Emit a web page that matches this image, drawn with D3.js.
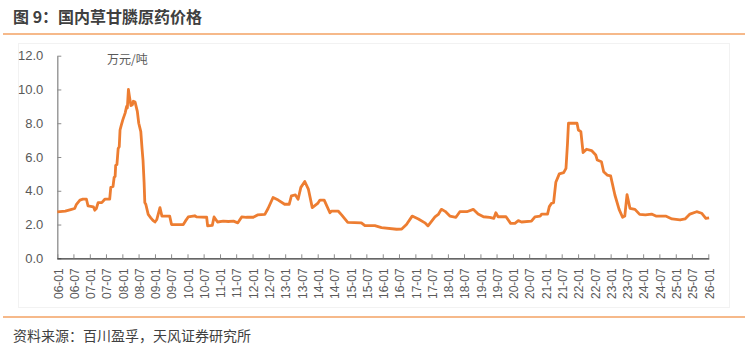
<!DOCTYPE html>
<html>
<head>
<meta charset="utf-8">
<script src="https://cdn.jsdelivr.net/npm/d3@7"></script>
<style>
  body { margin: 0; background: #fff; }
  svg { display: block; font-family: "Liberation Sans", Arial, "Noto Sans CJK SC", sans-serif; }
  .cjk { font-family: "Noto Sans CJK SC", "Liberation Sans", sans-serif; }
</style>
</head>
<body>
<div id="chart"></div>
<script>
const title = '图 9：国内草甘膦原药价格';
const source = '资料来源：百川盈孚，天风证券研究所';
const unit = '万元/吨';

const dates = [
  '2006-01-01','2006-04-01','2006-06-10','2006-07-15','2006-08-04','2006-09-12','2006-10-15','2006-11-24',
  '2006-12-12','2007-02-10','2007-02-26','2007-03-15','2007-04-04','2007-05-15','2007-06-18','2007-08-12',
  '2007-08-24','2007-09-18','2007-10-01','2007-10-12','2007-10-18','2007-11-01','2007-11-15','2007-11-27',
  '2007-12-06','2007-12-21','2008-01-06','2008-02-01','2008-02-18','2008-02-26','2008-03-09','2008-03-20',
  '2008-04-06','2008-04-23','2008-05-03','2008-05-23','2008-06-17','2008-07-03','2008-07-26','2008-08-09',
  '2008-08-20','2008-09-01','2008-09-09','2008-09-20','2008-10-17','2008-11-15','2008-12-09','2009-01-01',
  '2009-01-22','2009-02-26','2009-03-20','2009-06-15','2009-07-06','2009-11-15','2009-12-08','2010-01-09',
  '2010-03-23','2010-04-12','2010-08-04','2010-08-15','2010-10-06','2010-10-26','2010-12-04','2011-02-06',
  '2011-04-04','2011-06-01','2011-07-20','2011-09-01','2011-10-23','2012-01-09','2012-02-26','2012-05-18',
  '2012-06-23','2012-08-18','2012-10-15','2012-12-26','2013-02-15','2013-03-12','2013-04-26','2013-05-26',
  '2013-06-26','2013-08-09','2013-09-18','2013-11-01','2014-01-01','2014-01-26','2014-03-15','2014-05-18',
  '2014-06-06','2014-08-18','2014-09-26','2014-12-04','2015-05-06','2015-06-15','2015-10-04','2015-12-18',
  '2016-06-04','2016-08-01','2016-09-23','2016-11-26','2017-02-04','2017-04-18','2017-05-23','2017-08-09',
  '2017-09-15','2017-10-20','2017-12-01','2018-01-23','2018-04-01','2018-05-15','2018-08-01','2018-10-12',
  '2018-12-06','2019-02-04','2019-04-15','2019-06-01','2019-06-23','2019-07-18','2019-10-15','2019-12-06',
  '2020-01-23','2020-03-01','2020-04-06','2020-07-26','2020-09-04','2020-11-01','2020-11-18','2021-01-23',
  '2021-02-12','2021-03-09','2021-04-01','2021-04-26','2021-06-04','2021-07-23','2021-08-18','2021-09-04',
  '2021-09-15','2021-12-20','2022-01-04','2022-02-01','2022-02-26','2022-04-06','2022-06-01','2022-07-18',
  '2022-08-04','2022-09-20','2022-10-15','2022-11-23','2023-01-01','2023-02-18','2023-04-06','2023-05-15',
  '2023-06-09','2023-07-04','2023-08-06','2023-10-01','2023-11-23','2024-01-26','2024-04-04','2024-05-23',
  '2024-09-09','2024-11-20','2025-02-18','2025-04-15','2025-06-09','2025-08-23','2025-10-18','2025-12-04',
  '2026-01-10'
];

const prices = [
  2.75, 2.8, 2.9, 2.95, 3.2, 3.45, 3.5, 3.5,
  3.1, 3.05, 2.85, 2.95, 3.3, 3.3, 3.5, 3.5,
  4.2, 4.25, 4.8, 4.85, 5.5, 5.55, 6.5, 6.6,
  7.6, 7.9, 8.2, 8.6, 9.0, 8.9, 10.0, 9.6,
  9.05, 9.1, 9.3, 9.25, 8.7, 8.0, 7.5, 6.5,
  5.8, 4.5, 3.3, 3.2, 2.6, 2.4, 2.25, 2.15,
  2.3, 3.0, 2.5, 2.5, 2.0, 2.0, 2.2, 2.45,
  2.52, 2.45, 2.43, 1.92, 1.95, 2.45, 2.15, 2.2,
  2.18, 2.2, 2.1, 2.45, 2.43, 2.43, 2.57, 2.6,
  2.95, 3.6, 3.45, 3.2, 3.2, 3.7, 3.75, 3.5,
  4.2, 4.55, 4.1, 3.0, 3.25, 3.45, 3.45, 2.7,
  2.8, 2.8, 2.57, 2.13, 2.1, 1.93, 1.93, 1.82,
  1.72, 1.73, 2.0, 2.5, 2.33, 2.1, 1.92, 2.45,
  2.6, 2.9, 2.78, 2.5, 2.43, 2.76, 2.76, 2.9,
  2.62, 2.46, 2.43, 2.37, 2.7, 2.46, 2.46, 2.07,
  2.07, 2.23, 2.15, 2.2, 2.46, 2.5, 2.62, 2.62,
  3.06, 3.26, 3.3, 4.5, 5.0, 5.07, 5.33, 6.8,
  8.0, 8.0, 7.6, 7.5, 6.26, 6.46, 6.38, 6.12,
  5.82, 5.72, 5.13, 4.93, 4.88, 3.75, 2.9, 2.43,
  2.5, 3.77, 2.96, 2.9, 2.6, 2.57, 2.62, 2.5,
  2.5, 2.33, 2.27, 2.33, 2.62, 2.76, 2.67, 2.37,
  2.4
];

const yTicks = [0, 2, 4, 6, 8, 10, 12];
const xStart = '2006-01-01';
const xEnd = '2026-01-01';

const width = 747, height = 351;
const parse = d3.timeParse('%Y-%m-%d');
const data = dates.map((d, i) => [parse(d), prices[i]]);

const svg = d3.select('#chart').append('svg')
  .attr('width', width)
  .attr('height', height);

// header & footer
svg.append('text')
  .attr('class', 'cjk')
  .attr('x', 13).attr('y', 23)
  .style('font-size', '16px')
  .style('font-weight', 'bold')
  .style('fill', '#404040')
  .text(title);

svg.append('line')
  .attr('x1', 3).attr('x2', 745)
  .attr('y1', 34).attr('y2', 34)
  .style('stroke', '#f6b98a')
  .style('stroke-width', 2);

svg.append('rect')
  .attr('x', 18.5).attr('y', 43.5)
  .attr('width', 711).attr('height', 264)
  .style('fill', 'none')
  .style('stroke', '#f2f2f2');

svg.append('line')
  .attr('x1', 3).attr('x2', 745)
  .attr('y1', 317).attr('y2', 317)
  .style('stroke', '#f6b98a')
  .style('stroke-width', 2);

svg.append('text')
  .attr('class', 'cjk')
  .attr('x', 13).attr('y', 341)
  .style('font-size', '14px')
  .style('fill', '#404040')
  .text(source);

// scales
const x = d3.scaleTime()
  .domain([parse(xStart), parse(xEnd)])
  .range([57.3, 708.3]);

const y = d3.scaleLinear()
  .domain([0, 12])
  .range([258.3, 55.7]);

// axes
const yAxis = d3.axisLeft(y)
  .tickValues(yTicks)
  .tickFormat(d3.format('.1f'))
  .tickSizeInner(-4)
  .tickSizeOuter(0)
  .tickPadding(14);

const yG = svg.append('g')
  .attr('transform', `translate(${x.range()[0]},0)`)
  .call(yAxis);
yG.select('.domain').style('stroke', '#8c8c8c').style('stroke-width', 1.3);
yG.selectAll('.tick line').style('stroke', '#8c8c8c');
yG.selectAll('.tick text')
  .style('font-size', '13px')
  .style('fill', '#595959');

const xAxis = d3.axisBottom(x)
  .ticks(d3.timeMonth.every(6))
  .tickFormat(d3.timeFormat('%y-%m'))
  .tickSizeInner(-4)
  .tickSizeOuter(0);

const xG = svg.append('g')
  .attr('transform', `translate(0,${y(0)})`)
  .call(xAxis);
xG.select('.domain')
  .attr('d', `M${x.range()[0]},0.5H${x.range()[1] + 1}`)
  .style('stroke', '#333')
  .style('stroke-width', 1.3);
xG.selectAll('.tick line').style('stroke', '#8c8c8c');
xG.selectAll('.tick text')
  .attr('y', 0)
  .attr('x', -10)
  .attr('dy', '0.4em')
  .attr('transform', 'rotate(-90)')
  .style('text-anchor', 'end')
  .style('font-size', '12px')
  .style('fill', '#595959');

// unit
svg.append('text')
  .attr('class', 'cjk')
  .attr('x', 107).attr('y', 64)
  .style('font-size', '12px')
  .style('fill', '#595959')
  .text(unit);

// line
const line = d3.line()
  .x(d => x(d[0]))
  .y(d => y(d[1]));

svg.append('path')
  .datum(data)
  .attr('d', line)
  .style('fill', 'none')
  .style('stroke', '#ed7d31')
  .style('stroke-width', 2.8)
  .style('stroke-linejoin', 'round');
</script>
</body>
</html>
